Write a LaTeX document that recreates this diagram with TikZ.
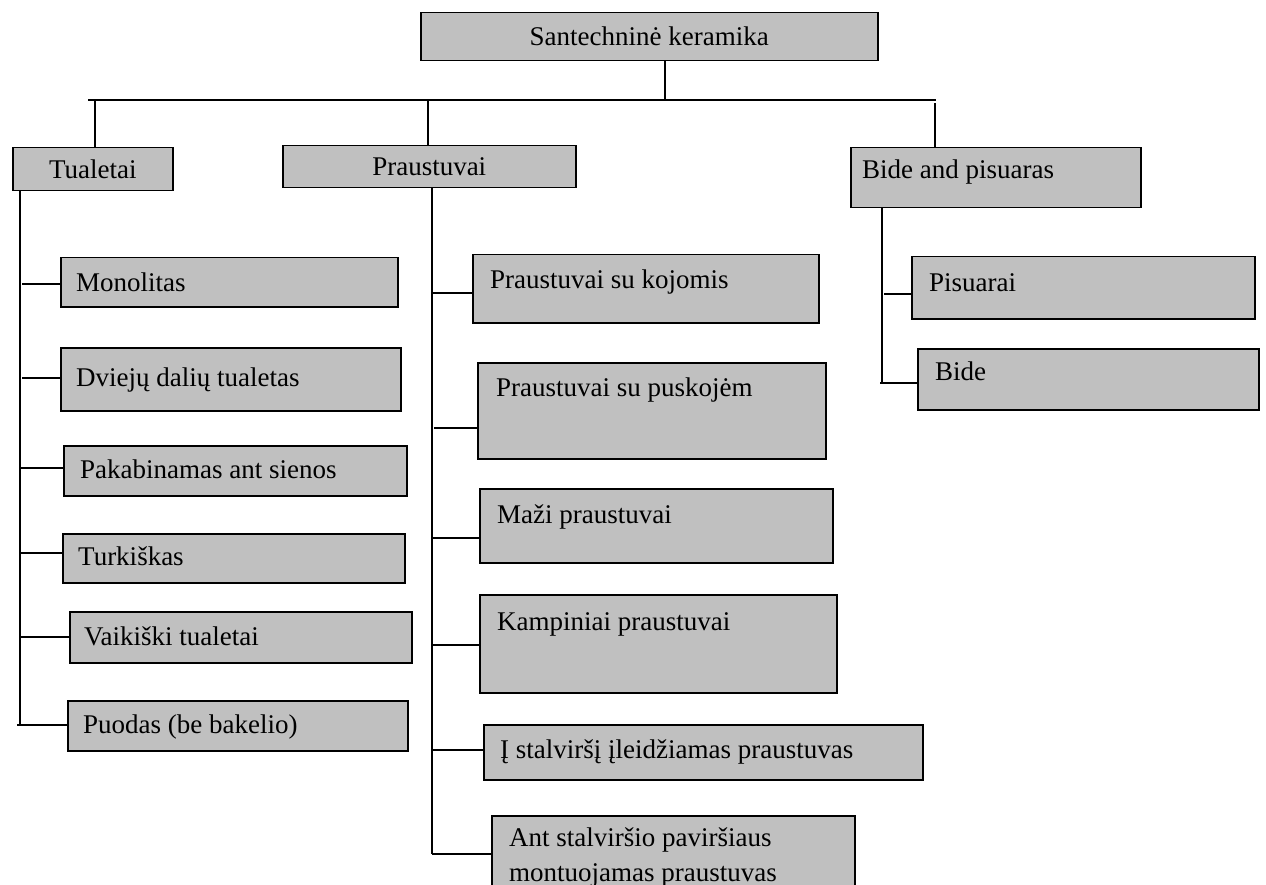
\documentclass[tikz,border=0pt]{standalone}
\usepackage{fontspec}
\setmainfont{Liberation Serif}
\definecolor{boxgray}{RGB}{192,192,192}
\begin{document}
\begin{tikzpicture}[x=1pt,y=-1pt,
  box/.style={draw, fill=boxgray, line width=1.5pt, inner sep=0pt, anchor=north west,
              font=\fontsize{27pt}{32pt}\selectfont},
  lbl/.style={inner sep=0pt, anchor=west, font=\fontsize{27pt}{32pt}\selectfont,
              text height=17.5pt, text depth=0pt},
  wire/.style={line width=1.5pt}]
\useasboundingbox (0,0) rectangle (1266,885);
\clip (0,0) rectangle (1266,885);

% --- top level ---
\node[box, minimum width=457pt, minimum height=48pt] (root) at (420,12) {Santechninė keramika};

% --- second level ---
\node[box, minimum width=160pt, minimum height=43pt] (tual) at (12,147) {Tualetai};
\node[box, minimum width=293pt, minimum height=42pt] (praus) at (282,145) {Praustuvai};
\node[box, minimum width=290pt, minimum height=60pt] (bidep) at (850,147) {};
\node[lbl] (bidepT) at (862,170) {Bide and pisuaras};

% --- toilets ---
\node[box, minimum width=337pt, minimum height=49pt] (mono) at (60,257) {};
\node[lbl] (monoT) at (76,283) {Monolitas};
\node[box, minimum width=340pt, minimum height=63pt] (dviej) at (60,347) {};
\node[lbl] (dviejT) at (76,378) {Dviejų dalių tualetas};
\node[box, minimum width=343pt, minimum height=50pt] (pakab) at (63,445) {};
\node[lbl] (pakabT) at (80,470) {Pakabinamas ant sienos};
\node[box, minimum width=342pt, minimum height=49pt] (turk) at (62,533) {};
\node[lbl] (turkT) at (78,557) {Turkiškas};
\node[box, minimum width=342pt, minimum height=51pt] (vaik) at (69,611) {};
\node[lbl] (vaikT) at (84,637) {Vaikiški tualetai};
\node[box, minimum width=340pt, minimum height=50pt] (puod) at (67,700) {};
\node[lbl] (puodT) at (83,725) {Puodas (be bakelio)};

% --- washbasins ---
\node[box, minimum width=346pt, minimum height=68pt] (koj) at (472,254) {};
\node[lbl] (kojT) at (490,280) {Praustuvai su kojomis};
\node[box, minimum width=348pt, minimum height=96pt] (pusk) at (477,362) {};
\node[lbl] (puskT) at (496,388) {Praustuvai su puskojėm};
\node[box, minimum width=353pt, minimum height=74pt] (mazi) at (479,488) {};
\node[lbl] (maziT) at (497,515) {Maži praustuvai};
\node[box, minimum width=357pt, minimum height=98pt] (kamp) at (479,594) {};
\node[lbl] (kampT) at (497,622) {Kampiniai praustuvai};
\node[box, minimum width=439pt, minimum height=55pt] (ileid) at (483,724) {};
\node[lbl] (ileidT) at (500,750) {Į stalviršį įleidžiamas praustuvas};
\node[box, minimum width=363pt, minimum height=90pt] (virs) at (491,815) {};
\node[inner sep=0pt, anchor=north west, align=left,
      font=\fontsize{27pt}{35pt}\selectfont] (virsT) at (509,828)
      {Ant stalviršio paviršiaus\\montuojamas praustuvas};

% --- bidets and urinals ---
\node[box, minimum width=343pt, minimum height=62pt] (pisu) at (911,256) {};
\node[lbl] (pisuT) at (929,283) {Pisuarai};
\node[box, minimum width=341pt, minimum height=61pt] (bide) at (917,348) {};
\node[lbl] (bideT) at (935,372) {Bide};

% --- junction points ---
\coordinate (j0) at (665,100);
\coordinate (barL) at (88,100);
\coordinate (barR) at (936,100);
\coordinate (j1) at (95,100);
\coordinate (j2) at (428,100);
\coordinate (j3) at (935,103);

\coordinate (ta) at (22,284);
\coordinate (tb) at (22,378);
\coordinate (tc) at (20,468);
\coordinate (td) at (20,553);
\coordinate (te) at (20,637);
\coordinate (tf) at (17,725);
\coordinate (tend) at (20,725);

\coordinate (pa) at (432,293);
\coordinate (pb) at (434,428);
\coordinate (pc) at (432,538);
\coordinate (pd) at (432,645);
\coordinate (pe) at (432,750);
\coordinate (pf) at (432,854);

\coordinate (ba) at (884,294);
\coordinate (bb) at (880,383);
\coordinate (bend) at (882,383);

% --- connectors ---
\draw[wire] (root.south -| j0) -- (j0);
\draw[wire] (barL) -- (barR);
\draw[wire] (j1) -- (j1 |- tual.north);
\draw[wire] (j2) -- (j2 |- praus.north);
\draw[wire] (j3) -- (j3 |- bidep.north);

\draw[wire] (tend |- tual.south) -- (tend);
\foreach \c/\b in {ta/mono, tb/dviej, tc/pakab, td/turk, te/vaik, tf/puod}
  \draw[wire] (\c) -- (\c -| \b.west);

\draw[wire] (pf |- praus.south) -- (pf);
\foreach \c/\b in {pa/koj, pb/pusk, pc/mazi, pd/kamp, pe/ileid, pf/virs}
  \draw[wire] (\c) -- (\c -| \b.west);

\draw[wire] (bend |- bidep.south) -- (bend);
\foreach \c/\b in {ba/pisu, bb/bide}
  \draw[wire] (\c) -- (\c -| \b.west);
\end{tikzpicture}
\end{document}
